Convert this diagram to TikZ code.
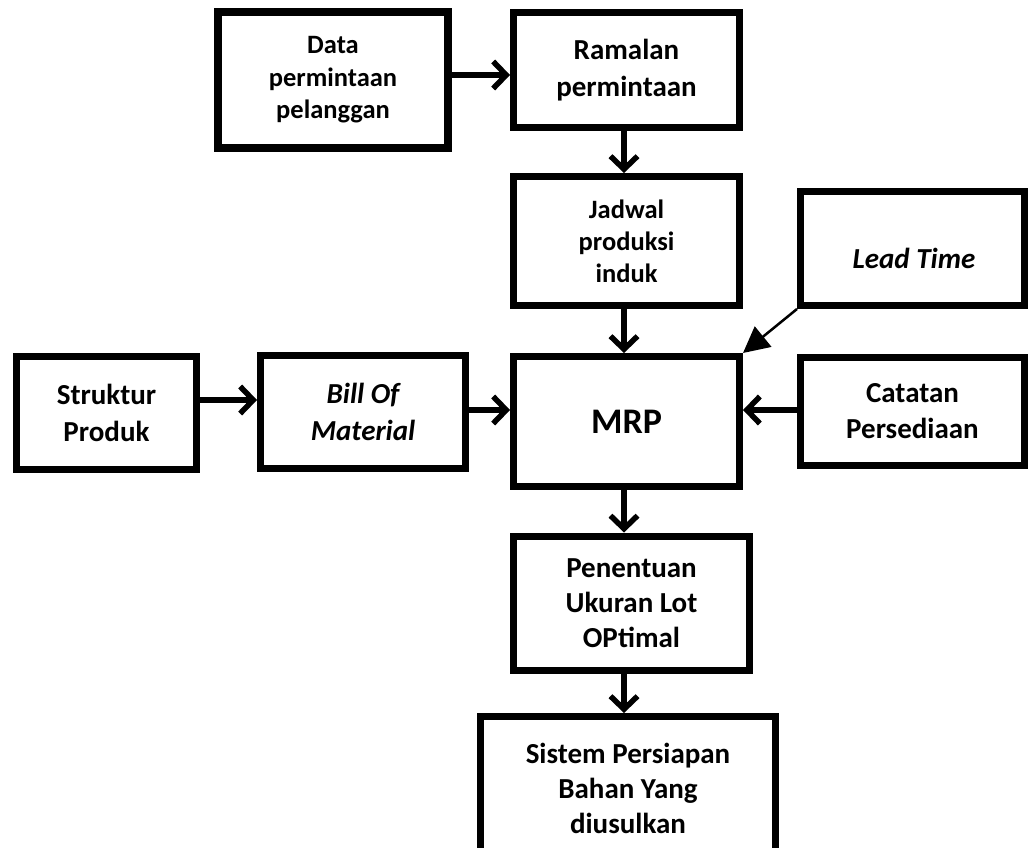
\documentclass[tikz,border=0pt]{standalone}
\usepackage{fontspec}
\setmainfont{Carlito}
\usetikzlibrary{arrows.meta}
\begin{document}
\begin{tikzpicture}[x=1pt,y=-1pt,
  box/.style={draw, line width=7pt, align=center, inner sep=0pt,
    font=\bfseries\fontsize{29}{36}\selectfont},
  conn/.style={line width=5.5pt, -{Straight Barb[length=13pt,width=27pt]}},
  thinarrow/.style={line width=2.5pt, -{Triangle[length=26pt,width=26pt]}},
]
\useasboundingbox (0,0) rectangle (1028,848);
\clip (0,0) rectangle (1028,848);
\fill[white] (0,0) rectangle (1028,848);

\node[box, line width=8pt, minimum width=230pt, minimum height=136pt, font=\bfseries\fontsize{26.5}{32.5}\selectfont] (data) at (333,80) {Data\\permintaan\\pelanggan};
\node[box, minimum width=226pt, minimum height=115pt, font=\bfseries\fontsize{29}{37}\selectfont] (ram) at (626.5,70) {Ramalan\\permintaan};
\node[box, minimum width=226pt, minimum height=129pt, font=\bfseries\fontsize{26.5}{32}\selectfont] (jad) at (626.5,241) {Jadwal\\produksi\\induk};
\node[box, minimum width=224pt, minimum height=114pt] (lead) at (912.5,248.5) {};
\node[font=\bfseries\itshape\fontsize{29}{36}\selectfont] (leadtxt) at (914,258) {Lead Time};
\node[box, minimum width=180pt, minimum height=113pt, font=\bfseries\fontsize{29}{37}\selectfont] (str) at (106.5,413) {Struktur\\Produk};
\node[box, minimum width=205pt, minimum height=113pt, font=\bfseries\itshape\fontsize{29}{37}\selectfont] (bom) at (363,412) {Bill Of\\Material};
\node[box, minimum width=226pt, minimum height=130pt, font=\bfseries\fontsize{36}{40}\selectfont] (mrp) at (626.5,421.5) {MRP};
\node[box, minimum width=224pt, minimum height=108pt] (cat) at (912.5,411) {Catatan\\Persediaan};
\node[box, minimum width=236pt, minimum height=134pt, font=\bfseries\fontsize{29}{35}\selectfont] (pen) at (631.5,603) {Penentuan\\Ukuran Lot\\OPtimal};
\node[box, minimum width=295pt, minimum height=143pt, font=\bfseries\fontsize{29}{35}\selectfont] (sis) at (628,788) {Sistem Persiapan\\Bahan Yang\\diusulkan};

\coordinate (hy1) at (0,75);
\coordinate (hy2) at (0,400);
\coordinate (hy3) at (0,410);
\coordinate (vx) at (624,0);

\draw[conn] (data.east |- hy1) -- (ram.west |- hy1);
\draw[conn] (ram.south -| vx) -- (jad.north -| vx);
\draw[conn] (jad.south -| vx) -- (mrp.north -| vx);
\draw[conn] (str.east |- hy2) -- (bom.west |- hy2);
\draw[conn] (bom.east |- hy3) -- (mrp.west |- hy3);
\draw[conn] (cat.west |- hy3) -- (mrp.east |- hy3);
\draw[conn] (mrp.south -| vx) -- (pen.north -| vx);
\draw[conn] (pen.south -| vx) -- (sis.north -| vx);
\draw[thinarrow] (lead.south west) -- (mrp.north east);
\end{tikzpicture}
\end{document}
